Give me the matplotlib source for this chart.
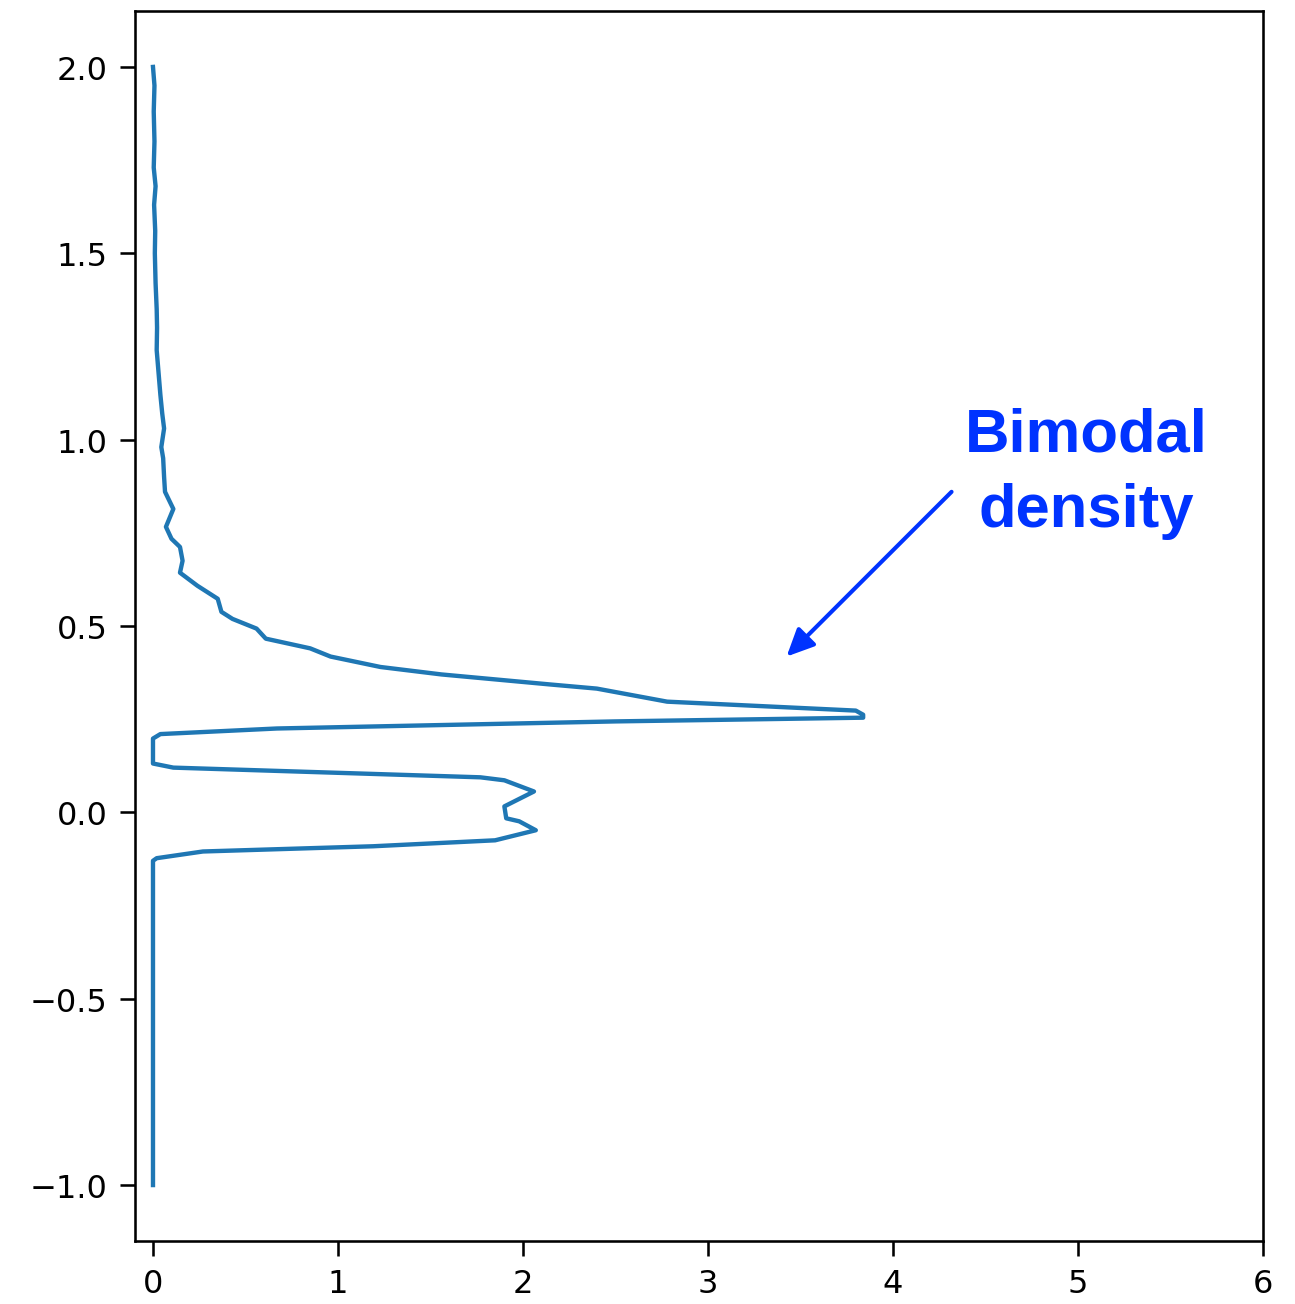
import matplotlib
matplotlib.use("Agg")
import matplotlib.pyplot as plt

# density profile traced top-down along the value axis
density = [0.00, 0.008, 0.004, 0.008, 0.004, 0.014, 0.006, 0.012, 0.01, 0.014,
           0.02, 0.022, 0.02, 0.03, 0.04, 0.05, 0.06, 0.045, 0.055, 0.06,
           0.065, 0.11, 0.07, 0.10, 0.146, 0.16, 0.146, 0.24, 0.35, 0.37,
           0.43, 0.56, 0.61, 0.85, 0.96, 1.23, 1.56, 2.15, 2.40, 2.78,
           3.80, 3.84, 3.84, 2.50, 0.67, 0.04, 0.0, 0.0, 0.11, 1.77,
           1.90, 2.06, 1.90, 1.91, 1.98, 2.07, 1.85, 1.19, 0.27, 0.02,
           0.0, 0.0]
values = [2.00, 1.95, 1.88, 1.80, 1.73, 1.68, 1.63, 1.56, 1.50, 1.42,
          1.35, 1.30, 1.24, 1.18, 1.12, 1.07, 1.03, 0.98, 0.95, 0.90,
          0.86, 0.814, 0.766, 0.734, 0.712, 0.675, 0.643, 0.608, 0.573, 0.538,
          0.519, 0.493, 0.466, 0.44, 0.418, 0.39, 0.37, 0.343, 0.332, 0.297,
          0.273, 0.262, 0.254, 0.244, 0.225, 0.21, 0.198, 0.131, 0.12, 0.094,
          0.086, 0.056, 0.016, -0.016, -0.024, -0.048, -0.075, -0.091, -0.105, -0.123,
          -0.13, -1.00]

label_text = "Bimodal\ndensity"
label_xy = (5.045, 0.769)
arrow_tail = (4.318, 0.86)
arrow_tip = (3.426, 0.418)

fig = plt.figure(figsize=(7.0, 7.054), dpi=185)
ax = fig.add_axes([0.104, 0.0483, 0.871, 0.9425])

ax.plot(density, values, color="#1f77b4", lw=1.7)
ax.set_xlim(-0.099, 6)
ax.tick_params(labelsize=12.5, length=6, width=1.0, pad=4.5)
for spine in ax.spines.values():
    spine.set_linewidth(1.0)

ax.annotate("", xy=arrow_tip, xytext=arrow_tail,
            arrowprops=dict(arrowstyle="-|>,head_length=0.9,head_width=0.42",
                            color="#0033ff", lw=1.6, shrinkA=0, shrinkB=0))
ax.text(*label_xy, label_text, color="#0033ff", fontsize=24,
        fontweight="bold", family="Liberation Sans",
        ha="center", va="baseline", linespacing=1.42)

fig.savefig("out.png", dpi=185)
